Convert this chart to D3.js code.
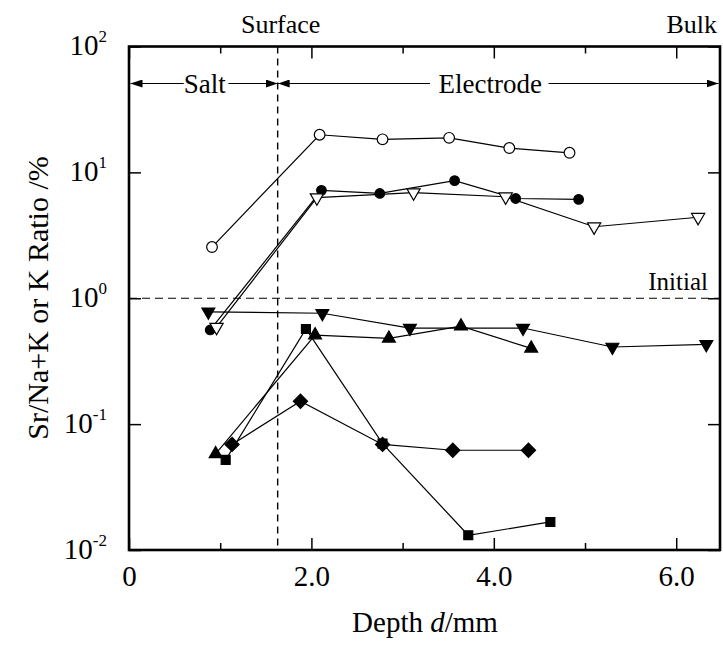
<!DOCTYPE html>
<html><head><meta charset="utf-8">
<script src="https://cdn.jsdelivr.net/npm/d3@7"></script>
<style>
html,body{margin:0;padding:0;background:#fff;}
svg text{font-family:"Liberation Serif","Times New Roman",serif;fill:#000;}
</style></head>
<body><svg id="c" width="723" height="661"></svg>
<script>
// ---- data ----
const xTicksMajor = [0, 2, 4, 6];
const xTickLabels = ["0", "2.0", "4.0", "6.0"];
const xTicksMinor = [1, 3, 5];
const yTicks = [0.01, 0.1, 1, 10, 100];
const yTickExponents = ["-2", "-1", "0", "1", "2"];

const openCircleX = [0.91, 2.09, 2.78, 3.51, 4.17, 4.83];
const openCircleY = [2.55, 19.9, 18.3, 18.8, 15.6, 14.3];
const filledCircleX = [0.89, 2.11, 2.75, 3.57, 4.24, 4.93];
const filledCircleY = [0.56, 7.2, 6.8, 8.6, 6.2, 6.1];
const openTriDownX = [0.96, 2.06, 3.12, 4.13, 5.10, 6.24];
const openTriDownY = [0.59, 6.3, 6.9, 6.4, 3.7, 4.4];
const filledTriDownX = [0.87, 2.12, 3.08, 4.32, 5.30, 6.33];
const filledTriDownY = [0.78, 0.76, 0.58, 0.58, 0.41, 0.43];
const filledTriUpX = [0.95, 2.04, 2.85, 3.64, 4.41];
const filledTriUpY = [0.058, 0.51, 0.48, 0.60, 0.40];
const squareX = [1.06, 1.94, 2.78, 3.72, 4.62];
const squareY = [0.052, 0.57, 0.070, 0.0131, 0.0167];
const diamondX = [1.13, 1.88, 2.78, 3.55, 4.38];
const diamondY = [0.069, 0.152, 0.069, 0.062, 0.062];

const surfaceDepth = 1.63;
const initialRatio = 1;

// ---- layout ----
const L = 129, R = 720, T = 46.5, B = 550;
const svg = d3.select("#c");
const x = d3.scaleLinear().domain([0, 6.48]).range([L, R]);
const y = d3.scaleLog().domain([0.01, 100]).range([B, T]);

// dashed reference lines
svg.append("line").attr("x1", x(0)).attr("x2", x(6.48)).attr("y1", y(initialRatio)).attr("y2", y(initialRatio))
  .attr("stroke", "#000").attr("stroke-width", 1.2).attr("stroke-dasharray", "8,5");
svg.append("line").attr("x1", x(surfaceDepth)).attr("x2", x(surfaceDepth)).attr("y1", T).attr("y2", B)
  .attr("stroke", "#000").attr("stroke-width", 1.4).attr("stroke-dasharray", "7,5");

// axes (inward ticks)
function styleAxis(g) {
  g.selectAll("path.domain").remove();
  g.selectAll(".tick line").attr("stroke", "#000").attr("stroke-width", 1.5);
}
const gxB = svg.append("g").attr("transform", `translate(0,${B})`)
  .call(d3.axisBottom(x).tickValues(xTicksMajor).tickSizeInner(-12).tickSizeOuter(0).tickPadding(26)
    .tickFormat((d, i) => xTickLabels[i]));
styleAxis(gxB);
gxB.selectAll(".tick text").attr("font-size", 29).attr("dy", "0.35em");
svg.append("g").attr("transform", `translate(0,${B})`)
  .call(d3.axisBottom(x).tickValues(xTicksMinor).tickSizeInner(-7).tickSizeOuter(0).tickFormat(""))
  .call(styleAxis);
svg.append("g").attr("transform", `translate(0,${T})`)
  .call(d3.axisTop(x).tickValues(xTicksMajor).tickSizeInner(-12).tickSizeOuter(0).tickFormat(""))
  .call(styleAxis);
svg.append("g").attr("transform", `translate(0,${T})`)
  .call(d3.axisTop(x).tickValues(xTicksMinor).tickSizeInner(-7).tickSizeOuter(0).tickFormat(""))
  .call(styleAxis);

const gyL = svg.append("g").attr("transform", `translate(${L},0)`)
  .call(d3.axisLeft(y).tickValues(yTicks).tickSizeInner(-12).tickSizeOuter(0).tickPadding(22).tickFormat(() => ""));
styleAxis(gyL);
gyL.selectAll(".tick text").each(function(d, i) {
  const t = d3.select(this).attr("font-size", 29).attr("dy", "0.28em").attr("text-anchor", "end");
  t.append("tspan").text("10");
  t.append("tspan").attr("font-size", 17).attr("dy", "-0.75em").text(yTickExponents[i]);
});
svg.append("g").attr("transform", `translate(${R},0)`)
  .call(d3.axisRight(y).tickValues(yTicks).tickSizeInner(-12).tickSizeOuter(0).tickFormat(""))
  .call(styleAxis);

// frame
svg.append("rect").attr("x", L).attr("y", T).attr("width", R - L).attr("height", B - T)
  .attr("fill", "none").attr("stroke", "#000").attr("stroke-width", 2.6);

// series
const series = [
  {xs: openCircleX, ys: openCircleY, sym: d3.symbolCircle, size: 90, fill: "#fff", rot: 0},
  {xs: filledCircleX, ys: filledCircleY, sym: d3.symbolCircle, size: 72, fill: "#000", rot: 0},
  {xs: openTriDownX, ys: openTriDownY, sym: d3.symbolTriangle, size: 75, fill: "#fff", rot: 180},
  {xs: filledTriDownX, ys: filledTriDownY, sym: d3.symbolTriangle, size: 72, fill: "#000", rot: 180},
  {xs: filledTriUpX, ys: filledTriUpY, sym: d3.symbolTriangle, size: 72, fill: "#000", rot: 0},
  {xs: squareX, ys: squareY, sym: d3.symbolSquare, size: 80, fill: "#000", rot: 0},
  {xs: diamondX, ys: diamondY, sym: d3.symbolSquare, size: 100, fill: "#000", rot: 45}
];
const line = d3.line().x(d => x(d[0])).y(d => y(d[1]));
series.forEach(s => {
  const pts = s.xs.map((v, i) => [v, s.ys[i]]);
  svg.append("path").attr("d", line(pts)).attr("fill", "none").attr("stroke", "#000").attr("stroke-width", 1.2);
});
series.forEach(s => {
  const pts = s.xs.map((v, i) => [v, s.ys[i]]);
  svg.append("g").selectAll("path").data(pts).join("path")
    .attr("d", d3.symbol().type(s.sym).size(s.size)())
    .attr("transform", d => `translate(${x(d[0])},${y(d[1])}) rotate(${s.rot})`)
    .attr("fill", s.fill).attr("stroke", "#000").attr("stroke-width", 1.2);
});

// region arrows
const arrowY = 83.5;
const defs = svg.append("defs");
defs.append("marker").attr("id", "ah").attr("viewBox", "0 0 12 8").attr("refX", 12).attr("refY", 4)
  .attr("markerWidth", 12).attr("markerHeight", 8).attr("markerUnits", "userSpaceOnUse").attr("orient", "auto")
  .append("path").attr("d", "M0,0 L12,4 L0,8 Z").attr("fill", "#000");
function arrow(x1, x2) {
  svg.append("line").attr("x1", x1).attr("x2", x2).attr("y1", arrowY).attr("y2", arrowY)
    .attr("stroke", "#000").attr("stroke-width", 1.2).attr("marker-end", "url(#ah)");
}
arrow(x(0.6), L + 1.5);
arrow(x(1.09), x(surfaceDepth));
arrow(x(3.3), x(surfaceDepth));
arrow(x(4.6), R - 1.5);
svg.append("text").attr("x", x(0.83)).attr("y", arrowY + 9).attr("text-anchor", "middle").attr("font-size", 27).text("Salt");
svg.append("text").attr("x", x(3.96)).attr("y", arrowY + 9).attr("text-anchor", "middle").attr("font-size", 27).text("Electrode");

// annotations
svg.append("text").attr("x", x(surfaceDepth) + 3).attr("y", 33).attr("text-anchor", "middle").attr("font-size", 26).text("Surface");
svg.append("text").attr("x", 717).attr("y", 33).attr("text-anchor", "end").attr("font-size", 26).text("Bulk");
svg.append("text").attr("x", 708).attr("y", y(initialRatio) - 8).attr("text-anchor", "end").attr("font-size", 25).text("Initial");

// axis titles
const xt = svg.append("text").attr("x", 425).attr("y", 632).attr("text-anchor", "middle").attr("font-size", 29);
xt.append("tspan").text("Depth ");
xt.append("tspan").attr("font-style", "italic").text("d");
xt.append("tspan").text("/mm");
svg.append("text").attr("transform", "translate(48,298) rotate(-90)").attr("text-anchor", "middle")
  .attr("font-size", 30).text("Sr/Na+K or K Ratio /%");
</script></body></html>
